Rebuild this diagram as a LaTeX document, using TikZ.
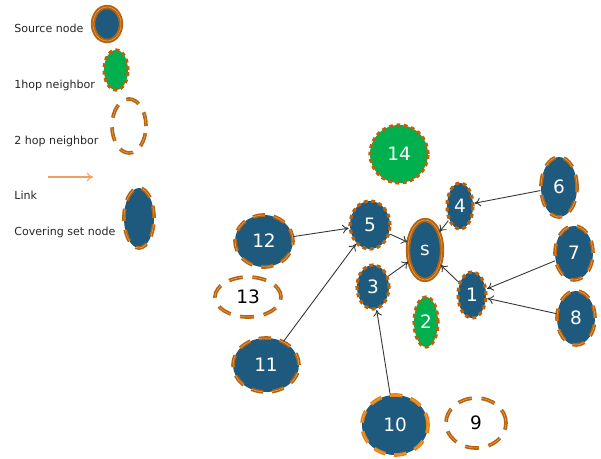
\documentclass[tikz,border=0pt]{standalone}
\usepackage{fontspec}
\setmainfont{DejaVu Sans}
\usetikzlibrary{shapes.geometric,arrows.meta}
\definecolor{nblue}{HTML}{1E5A7E}
\definecolor{ngreen}{HTML}{00B04F}
\definecolor{brn}{HTML}{B8620C}
\definecolor{brnl}{HTML}{E2A868}
\definecolor{orng}{HTML}{E8820F}
\definecolor{linkc}{HTML}{F0A060}
\tikzset{
  el/.style 2 args={ellipse, inner sep=0pt, minimum width=#1*0.04cm, minimum height=#2*0.04cm},
  numtxt/.style={text=white, font=\fontsize{10.5}{12}\selectfont},
  srcnode/.style={fill=nblue, draw=brn, line width=1.1pt, double=brnl, double distance=0.3pt},
  hopone/.style={fill=ngreen, draw=brn, line width=1.8pt, dash pattern=on 2.2pt off 2pt},
  hopblue/.style={hopone, fill=nblue},
  hoptwo/.style={draw=brn, line width=0.9pt, double=brnl, double distance=0.3pt, dash pattern=on 8pt off 5.5pt},
  covnode/.style={fill=nblue, draw=brn, line width=0.9pt, double=brnl, double distance=0.3pt, dash pattern=on 7pt off 5pt},
  legtxt/.style={anchor=west, inner sep=0pt, text=black!85, font=\fontsize{6.3}{7}\selectfont},
  lnk/.style={draw=black!80, line width=0.5pt, -{To[length=3.5pt,width=5pt]}},
}
\begin{document}
\begin{tikzpicture}[x=0.02cm,y=-0.02cm]
\useasboundingbox (0,0) rectangle (601,459);
% legend
\node[legtxt] (l1) at (14,28) {Source node};
\node[legtxt] (l2) at (14,85) {1hop neighbor};
\node[legtxt] (l3) at (14,141) {2 hop neighbor};
\node[legtxt] (l4) at (14,195) {Link};
\node[legtxt] (l5) at (14,232) {Covering set node};
\node[el={14}{17}, srcnode] (ls) at (107,24) {};
\node[el={12}{20}, hopone] (lh1) at (116,70) {};
\node[el={17}{27}, hoptwo] (lh2) at (129,126) {};
\coordinate (la) at (48,177);
\coordinate (lb) at (93,177);
\draw[line width=0.6pt, draw=linkc, -{To[length=3.5pt,width=5pt]}] (la) -- (lb);
\node[el={15}{30}, covnode] (lc) at (139,218) {};
% main nodes
\node[el={29}{29}, hopone, numtxt] (n14) at (399,154) {14};
\node[el={29}{26}, covnode, numtxt] (n12) at (264,241) {12};
\node[el={20}{24}, hopblue, numtxt] (n5) at (370,225) {5};
\node[el={16}{22}, hopblue, numtxt] (n3) at (373,287) {3};
\node[el={33}{20}, hoptwo, font=\fontsize{10.5}{12}\selectfont, text=black] (n13) at (248,297) {13};
\node[el={17}{30}, srcnode, numtxt] (s) at (425,250) {s};
\node[el={13}{23}, hopblue, numtxt] (n4) at (460,206) {4};
\node[el={18}{30}, covnode, numtxt] (n6) at (559,187) {6};
\node[el={19}{27}, covnode, numtxt] (n7) at (574,253) {7};
\node[el={14}{23}, hopblue, numtxt] (n1) at (472,295) {1};
\node[el={19}{27}, covnode, numtxt] (n8) at (576,318) {8};
\node[el={12}{25}, hopone, numtxt] (n2) at (426,322) {2};
\node[el={33}{27}, covnode, numtxt] (n11) at (266,365) {11};
\node[el={33}{30}, covnode, draw=orng, numtxt] (n10) at (395,425) {10};
\node[el={30}{25}, hoptwo, font=\fontsize{10.5}{12}\selectfont, text=black] (n9) at (476,423) {9};
% links
\draw[lnk] (n12) -- (n5);
\draw[lnk] (n11) -- (n5);
\draw[lnk] (n10) -- (n3);
\draw[lnk] (n5) -- (s);
\draw[lnk] (n3) -- (s);
\draw[lnk] (n4) -- (s);
\draw[lnk] (n6) -- (n4);
\draw[lnk] (n1) -- (s);
\draw[lnk] (n7) -- (n1);
\draw[lnk] (n8) -- (n1);
\end{tikzpicture}
\end{document}
